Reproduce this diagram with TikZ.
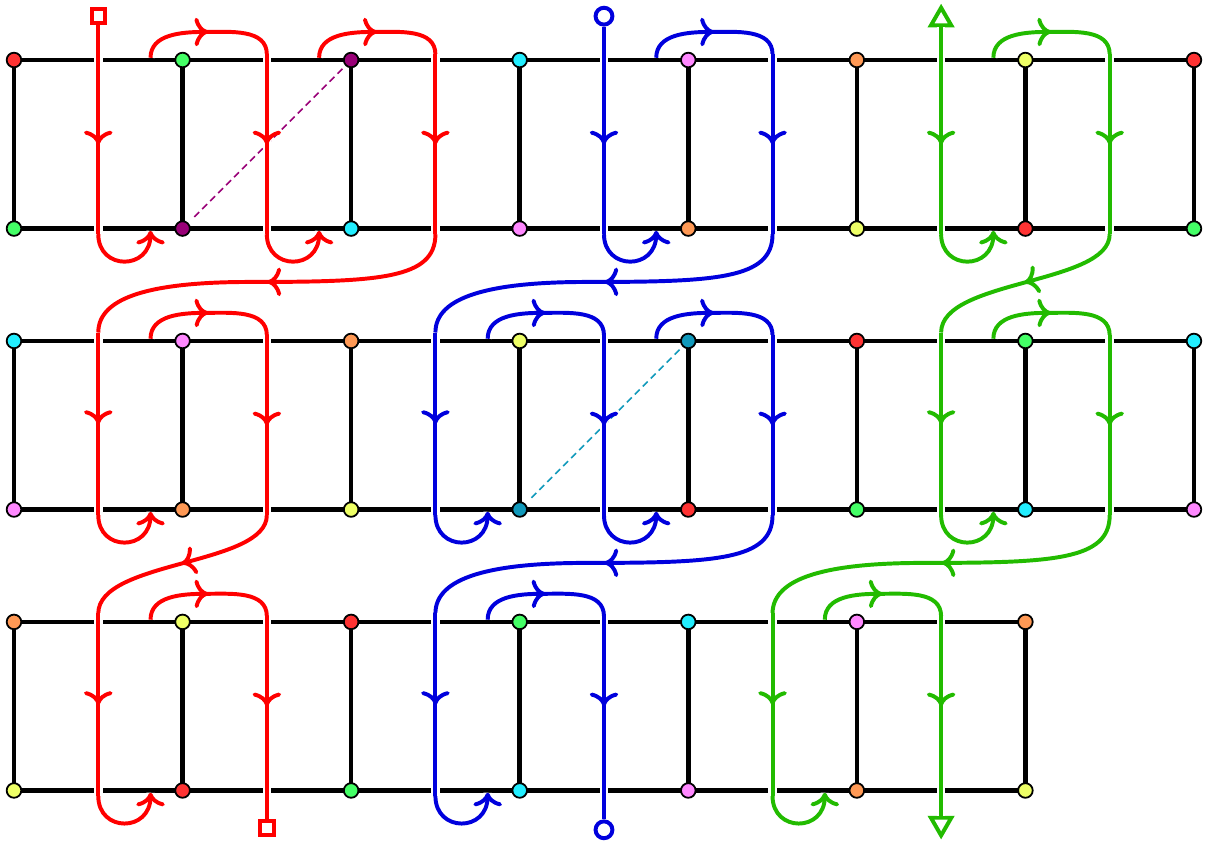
\documentclass[tikz,border=0pt]{standalone}
\usepackage{tikz}
\usetikzlibrary{arrows.meta, positioning, shapes.geometric, decorations.markings}

\definecolor{dotred}{HTML}{FF3333}
\definecolor{dotgreen}{HTML}{44FF66}
\definecolor{dotpurple}{HTML}{990077}
\definecolor{dotcyan}{HTML}{22EEFF}
\definecolor{dotpink}{HTML}{FF88FF}
\definecolor{dotorange}{HTML}{FF9955}
\definecolor{dotyellow}{HTML}{EEFF66}
\definecolor{dotteal}{HTML}{1199BB}
\definecolor{pathred}{HTML}{FF0000}
\definecolor{pathblue}{HTML}{0000DD}
\definecolor{pathgreen}{HTML}{22BB00}

\begin{document}
\begin{tikzpicture}[thick,decoration={
				markings,
				mark=at position 0.5 with {\arrow{>[scale=1.15]}}}
	]

	\tikzset{
		dot/.style={
				circle, draw=black, line width=0.9pt, inner sep=0pt, outer sep=0pt, minimum size=0.26cm
			},
		dred/.style={dot, fill=dotred},
		dgreen/.style={dot, fill=dotgreen},
		dpurple/.style={dot, fill=dotpurple},
		dcyan/.style={dot, fill=dotcyan},
		dpink/.style={dot, fill=dotpink},
		dorange/.style={dot, fill=dotorange},
		dyellow/.style={dot, fill=dotyellow},
		dteal/.style={dot, fill=dotteal},
		rail/.style={line width=2.3pt, black},
		purpledash/.style={line width=0.8pt, dotpurple, dash pattern=on 3.5pt off 2.2pt, shorten <=0.09cm, shorten >=0.09cm},
		tealdash/.style={line width=0.8pt, dotteal, dash pattern=on 3.5pt off 2.2pt, shorten <=0.09cm, shorten >=0.09cm},
		redpath/.style={color=pathred, line width=2pt, preaction={draw=white, line width=4.3pt, -}},
		bluepath/.style={color=pathblue, line width=2pt, preaction={draw=white, line width=4.3pt, -}},
		greenpath/.style={color=pathgreen, line width=2pt, preaction={draw=white, line width=4.3pt, -}},
		uturn/.style={-{>[scale=1.15]}},
		redend/.style={rectangle, draw=pathred, line width=2pt, fill=white, inner sep=0pt, minimum size=0.24cm},
		blueend/.style={circle, draw=pathblue, line width=2pt, fill=white, inner sep=0pt, minimum size=0.3cm},
		greenend/.style={regular polygon, regular polygon sides=3, draw=pathgreen, line width=2pt, fill=white, inner sep=0pt, minimum size=0.42cm},
	}

	\useasboundingbox (-0.249,1.068) rectangle (21.232,-13.917);

	% first ladder
	\node[dred](t11){};
	\node[dgreen, right=2.74cm of t11](t12){};
	\node[dpurple, right=2.74cm of t12](t13){};
	\node[dcyan, right=2.74cm of t13](t14){};
	\node[dpink, right=2.74cm of t14](t15){};
	\node[dorange, right=2.74cm of t15](t16){};
	\node[dyellow, right=2.74cm of t16](t17){};
	\node[dred, right=2.74cm of t17](t18){};
	\node[dgreen, below=2.74cm of t11](b11){};
	\node[dpurple, right=2.74cm of b11](b12){};
	\node[dcyan, right=2.74cm of b12](b13){};
	\node[dpink, right=2.74cm of b13](b14){};
	\node[dorange, right=2.74cm of b14](b15){};
	\node[dyellow, right=2.74cm of b15](b16){};
	\node[dred, right=2.74cm of b16](b17){};
	\node[dgreen, right=2.74cm of b17](b18){};

	% second ladder
	\node[dcyan, below=1.74cm of b11](t21){};
	\node[dpink, right=2.74cm of t21](t22){};
	\node[dorange, right=2.74cm of t22](t23){};
	\node[dyellow, right=2.74cm of t23](t24){};
	\node[dteal, right=2.74cm of t24](t25){};
	\node[dred, right=2.74cm of t25](t26){};
	\node[dgreen, right=2.74cm of t26](t27){};
	\node[dcyan, right=2.74cm of t27](t28){};
	\node[dpink, below=2.74cm of t21](b21){};
	\node[dorange, right=2.74cm of b21](b22){};
	\node[dyellow, right=2.74cm of b22](b23){};
	\node[dteal, right=2.74cm of b23](b24){};
	\node[dred, right=2.74cm of b24](b25){};
	\node[dgreen, right=2.74cm of b25](b26){};
	\node[dcyan, right=2.74cm of b26](b27){};
	\node[dpink, right=2.74cm of b27](b28){};

	% third ladder
	\node[dorange, below=1.74cm of b21](t31){};
	\node[dyellow, right=2.74cm of t31](t32){};
	\node[dred, right=2.74cm of t32](t33){};
	\node[dgreen, right=2.74cm of t33](t34){};
	\node[dcyan, right=2.74cm of t34](t35){};
	\node[dpink, right=2.74cm of t35](t36){};
	\node[dorange, right=2.74cm of t36](t37){};
	\node[dyellow, below=2.74cm of t31](b31){};
	\node[dred, right=2.74cm of b31](b32){};
	\node[dgreen, right=2.74cm of b32](b33){};
	\node[dcyan, right=2.74cm of b33](b34){};
	\node[dpink, right=2.74cm of b34](b35){};
	\node[dorange, right=2.74cm of b35](b36){};
	\node[dyellow, right=2.74cm of b36](b37){};

	\draw[rail] (t11) -- (t12) -- (t13) -- (t14) -- (t15) -- (t16) -- (t17) -- (t18);
	\draw[rail] (b11) -- (b12) -- (b13) -- (b14) -- (b15) -- (b16) -- (b17) -- (b18);
	\draw[rail] (t11) -- (b11) (t12) -- (b12) (t13) -- (b13) (t14) -- (b14) (t15) -- (b15) (t16) -- (b16) (t17) -- (b17) (t18) -- (b18);
	\draw[rail] (t21) -- (t22) -- (t23) -- (t24) -- (t25) -- (t26) -- (t27) -- (t28);
	\draw[rail] (b21) -- (b22) -- (b23) -- (b24) -- (b25) -- (b26) -- (b27) -- (b28);
	\draw[rail] (t21) -- (b21) (t22) -- (b22) (t23) -- (b23) (t24) -- (b24) (t25) -- (b25) (t26) -- (b26) (t27) -- (b27) (t28) -- (b28);
	\draw[rail] (t31) -- (t32) -- (t33) -- (t34) -- (t35) -- (t36) -- (t37);
	\draw[rail] (b31) -- (b32) -- (b33) -- (b34) -- (b35) -- (b36) -- (b37);
	\draw[rail] (t31) -- (b31) (t32) -- (b32) (t33) -- (b33) (t34) -- (b34) (t35) -- (b35) (t36) -- (b36) (t37) -- (b37);

	\draw[purpledash] (t13) -- (b12);
	\draw[tealdash] (t25) -- (b24);

	\node[redend] (rs) at (1.5,0.78) {};
	\node[redend] (re) at (4.5,-13.67) {};
	\node[blueend] (bs) at (10.5,0.78) {};
	\node[blueend] (be) at (10.5,-13.7) {};
	\node[greenend] (gs) at (16.5,0.72) {};
	\node[greenend, shape border rotate=180] (ge) at (16.5,-13.59) {};

	% red strand
	\draw[redpath] (rs) -- (1.5,0.1);
	\draw[redpath, postaction={decorate}] (1.5,0.1) -- (1.5,-3.1);
	\draw[redpath, uturn] (1.5,-3.1) .. controls (1.5,-3.75) and (2.43,-3.75) .. (2.43,-3.04);
	\draw[redpath, postaction={decorate}] (2.43,0.04) to[out=90,in=180] (3.4,0.5) to[out=0,in=90] (4.5,0.1);
	\draw[redpath, postaction={decorate}] (4.5,0.1) -- (4.5,-3.1);
	\draw[redpath, uturn] (4.5,-3.1) .. controls (4.5,-3.75) and (5.43,-3.75) .. (5.43,-3.04);
	\draw[redpath, postaction={decorate}] (5.43,0.04) to[out=90,in=180] (6.4,0.5) to[out=0,in=90] (7.5,0.1);
	\draw[redpath, postaction={decorate}] (7.5,0.1) -- (7.5,-3.1);
	\draw[redpath, postaction={decorate}] (7.5,-3.1) .. controls (7.5,-3.9) and (6.5,-3.95) .. (4.2,-3.95) .. controls (2.5,-3.95) and (1.5,-4.2) .. (1.5,-4.85);
	\draw[redpath, postaction={decorate}] (1.5,-4.85) -- (1.5,-8.1);
	\draw[redpath, uturn] (1.5,-8.1) .. controls (1.5,-8.75) and (2.43,-8.75) .. (2.43,-8.04);
	\draw[redpath, postaction={decorate}] (2.43,-4.96) to[out=90,in=180] (3.4,-4.5) to[out=0,in=90] (4.5,-4.9);
	\draw[redpath, postaction={decorate}] (4.5,-4.9) -- (4.5,-8.1);
	\draw[redpath, postaction={decorate}] (4.5,-8.1) .. controls (4.5,-9.0) and (1.5,-8.9) .. (1.5,-9.85);
	\draw[redpath, postaction={decorate}] (1.5,-9.85) -- (1.5,-13.1);
	\draw[redpath, uturn] (1.5,-13.1) .. controls (1.5,-13.75) and (2.43,-13.75) .. (2.43,-13.04);
	\draw[redpath, postaction={decorate}] (2.43,-9.96) to[out=90,in=180] (3.4,-9.5) to[out=0,in=90] (4.5,-9.9);
	\draw[redpath, postaction={decorate}] (4.5,-9.9) -- (4.5,-13.1);
	\draw[redpath] (4.5,-13.1) -- (re);

	% blue strand
	\draw[bluepath] (bs) -- (10.5,0.1);
	\draw[bluepath, postaction={decorate}] (10.5,0.1) -- (10.5,-3.1);
	\draw[bluepath, uturn] (10.5,-3.1) .. controls (10.5,-3.75) and (11.43,-3.75) .. (11.43,-3.04);
	\draw[bluepath, postaction={decorate}] (11.43,0.04) to[out=90,in=180] (12.4,0.5) to[out=0,in=90] (13.5,0.1);
	\draw[bluepath, postaction={decorate}] (13.5,0.1) -- (13.5,-3.1);
	\draw[bluepath, postaction={decorate}] (13.5,-3.1) .. controls (13.5,-3.9) and (12.5,-3.95) .. (10.2,-3.95) .. controls (8.5,-3.95) and (7.5,-4.2) .. (7.5,-4.85);
	\draw[bluepath, postaction={decorate}] (7.5,-4.85) -- (7.5,-8.1);
	\draw[bluepath, uturn] (7.5,-8.1) .. controls (7.5,-8.75) and (8.43,-8.75) .. (8.43,-8.04);
	\draw[bluepath, postaction={decorate}] (8.43,-4.96) to[out=90,in=180] (9.4,-4.5) to[out=0,in=90] (10.5,-4.9);
	\draw[bluepath, postaction={decorate}] (10.5,-4.9) -- (10.5,-8.1);
	\draw[bluepath, uturn] (10.5,-8.1) .. controls (10.5,-8.75) and (11.43,-8.75) .. (11.43,-8.04);
	\draw[bluepath, postaction={decorate}] (11.43,-4.96) to[out=90,in=180] (12.4,-4.5) to[out=0,in=90] (13.5,-4.9);
	\draw[bluepath, postaction={decorate}] (13.5,-4.9) -- (13.5,-8.1);
	\draw[bluepath, postaction={decorate}] (13.5,-8.1) .. controls (13.5,-8.9) and (12.5,-8.95) .. (10.2,-8.95) .. controls (8.5,-8.95) and (7.5,-9.2) .. (7.5,-9.85);
	\draw[bluepath, postaction={decorate}] (7.5,-9.85) -- (7.5,-13.1);
	\draw[bluepath, uturn] (7.5,-13.1) .. controls (7.5,-13.75) and (8.43,-13.75) .. (8.43,-13.04);
	\draw[bluepath, postaction={decorate}] (8.43,-9.96) to[out=90,in=180] (9.4,-9.5) to[out=0,in=90] (10.5,-9.9);
	\draw[bluepath, postaction={decorate}] (10.5,-9.9) -- (10.5,-13.1);
	\draw[bluepath] (10.5,-13.1) -- (be);

	% green strand
	\draw[greenpath] (gs) -- (16.5,0.1);
	\draw[greenpath, postaction={decorate}] (16.5,0.1) -- (16.5,-3.1);
	\draw[greenpath, uturn] (16.5,-3.1) .. controls (16.5,-3.75) and (17.43,-3.75) .. (17.43,-3.04);
	\draw[greenpath, postaction={decorate}] (17.43,0.04) to[out=90,in=180] (18.4,0.5) to[out=0,in=90] (19.5,0.1);
	\draw[greenpath, postaction={decorate}] (19.5,0.1) -- (19.5,-3.1);
	\draw[greenpath, postaction={decorate}] (19.5,-3.1) .. controls (19.5,-4.0) and (16.5,-3.9) .. (16.5,-4.85);
	\draw[greenpath, postaction={decorate}] (16.5,-4.85) -- (16.5,-8.1);
	\draw[greenpath, uturn] (16.5,-8.1) .. controls (16.5,-8.75) and (17.43,-8.75) .. (17.43,-8.04);
	\draw[greenpath, postaction={decorate}] (17.43,-4.96) to[out=90,in=180] (18.4,-4.5) to[out=0,in=90] (19.5,-4.9);
	\draw[greenpath, postaction={decorate}] (19.5,-4.9) -- (19.5,-8.1);
	\draw[greenpath, postaction={decorate}] (19.5,-8.1) .. controls (19.5,-8.9) and (18.5,-8.95) .. (16.2,-8.95) .. controls (14.5,-8.95) and (13.5,-9.2) .. (13.5,-9.85);
	\draw[greenpath, postaction={decorate}] (13.5,-9.85) -- (13.5,-13.1);
	\draw[greenpath, uturn] (13.5,-13.1) .. controls (13.5,-13.75) and (14.43,-13.75) .. (14.43,-13.04);
	\draw[greenpath, postaction={decorate}] (14.43,-9.96) to[out=90,in=180] (15.4,-9.5) to[out=0,in=90] (16.5,-9.9);
	\draw[greenpath, postaction={decorate}] (16.5,-9.9) -- (16.5,-13.1);
	\draw[greenpath] (16.5,-13.1) -- (ge);
\end{tikzpicture}
\end{document}
